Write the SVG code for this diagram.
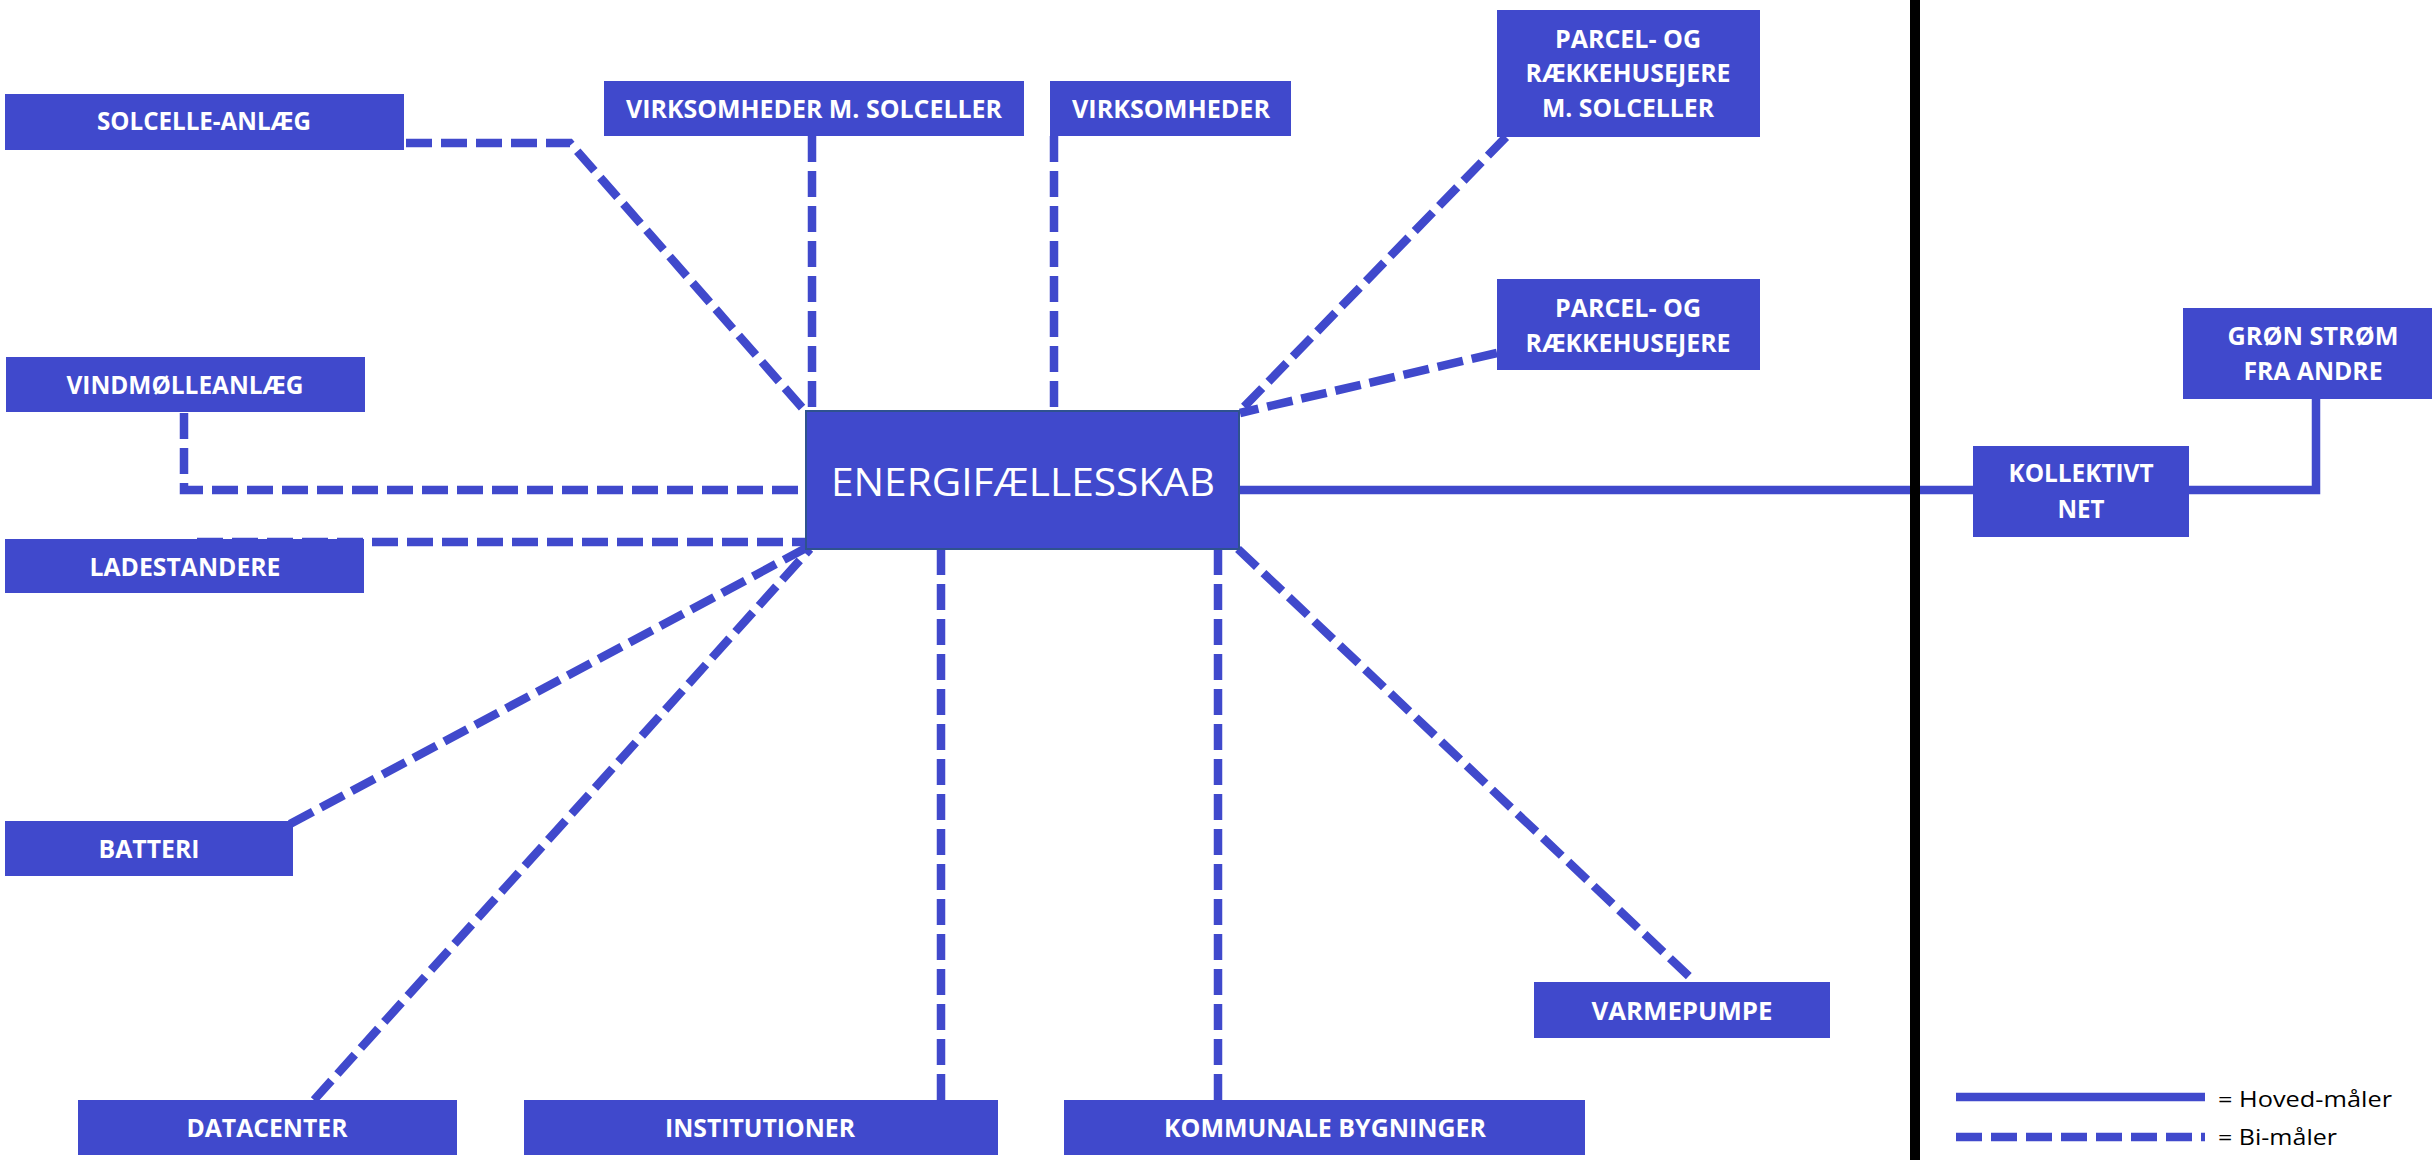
<svg xmlns="http://www.w3.org/2000/svg" width="2432" height="1160" viewBox="0 0 2432 1160">
<style>
.box{fill:#4049CC}
.center{fill:#4049CC;stroke:#2F528F;stroke-width:2}
.lbl{font-family:"Open Sans","Liberation Sans",sans-serif;font-weight:bold;font-size:25px;fill:#FFFFFF;text-anchor:middle}
.big{font-family:"Open Sans","Liberation Sans",sans-serif;font-size:39px;fill:#FFFFFF;text-anchor:middle}
.leg{font-family:"Open Sans","Liberation Sans",sans-serif;font-size:21px;fill:#000000}
.dash{fill:none;stroke:#4049CC;stroke-width:8.5;stroke-dasharray:26 9}
.solid{fill:none;stroke:#4049CC;stroke-width:8.5}
</style>
<rect x="0" y="0" width="2432" height="1160" fill="#FFFFFF"/>
<g id="connectors">
<polyline class="dash" points="406,143 570,143 805,411"/>
<polyline class="dash" points="184,413 184,490 805,490"/>
<line class="dash" x1="197" y1="542" x2="805" y2="542"/>
<line class="dash" x1="290" y1="824" x2="806" y2="548"/>
<line class="dash" x1="314" y1="1100" x2="810" y2="549"/>
<line class="dash" x1="812" y1="136" x2="812" y2="411"/>
<line class="dash" x1="1054" y1="136" x2="1054" y2="411"/>
<line class="dash" x1="1506" y1="137" x2="1240" y2="411"/>
<line class="dash" x1="1497" y1="353" x2="1240" y2="413"/>
<line class="dash" x1="941" y1="549" x2="941" y2="1100"/>
<line class="dash" x1="1218" y1="549" x2="1218" y2="1100"/>
<line class="dash" x1="1238" y1="549" x2="1695" y2="982"/>
<line class="solid" x1="1239" y1="490" x2="1973" y2="490"/>
<polyline class="solid" points="2189,490 2316,490 2316,399"/>
</g>
<rect id="divider" x="1910" y="0" width="10" height="1160" fill="#000000"/>
<g id="solcelle-anlaeg"><rect class="box" x="5" y="94" width="399" height="56"/><text class="lbl" x="204" y="130" textLength="214" lengthAdjust="spacingAndGlyphs">SOLCELLE-ANLÆG</text></g>
<g id="vindmoelleanlaeg"><rect class="box" x="6" y="357" width="359" height="55"/><text class="lbl" x="185" y="394" textLength="237" lengthAdjust="spacingAndGlyphs">VINDMØLLEANLÆG</text></g>
<g id="ladestandere"><rect class="box" x="5" y="539" width="359" height="54"/><text class="lbl" x="185" y="576" textLength="191" lengthAdjust="spacingAndGlyphs">LADESTANDERE</text></g>
<g id="batteri"><rect class="box" x="5" y="821" width="288" height="55"/><text class="lbl" x="149" y="858" textLength="101" lengthAdjust="spacingAndGlyphs">BATTERI</text></g>
<g id="datacenter"><rect class="box" x="78" y="1100" width="379" height="55"/><text class="lbl" x="267" y="1137" textLength="161" lengthAdjust="spacingAndGlyphs">DATACENTER</text></g>
<g id="institutioner"><rect class="box" x="524" y="1100" width="474" height="55"/><text class="lbl" x="760" y="1137" textLength="190" lengthAdjust="spacingAndGlyphs">INSTITUTIONER</text></g>
<g id="kommunale-bygninger"><rect class="box" x="1064" y="1100" width="521" height="55"/><text class="lbl" x="1325" y="1137" textLength="322" lengthAdjust="spacingAndGlyphs">KOMMUNALE BYGNINGER</text></g>
<g id="varmepumpe"><rect class="box" x="1534" y="982" width="296" height="56"/><text class="lbl" x="1682" y="1020" textLength="181" lengthAdjust="spacingAndGlyphs">VARMEPUMPE</text></g>
<g id="virksomheder-m-solceller"><rect class="box" x="604" y="81" width="420" height="55"/><text class="lbl" x="814" y="118" textLength="376" lengthAdjust="spacingAndGlyphs">VIRKSOMHEDER M. SOLCELLER</text></g>
<g id="virksomheder"><rect class="box" x="1050" y="81" width="241" height="55"/><text class="lbl" x="1171" y="118" textLength="198" lengthAdjust="spacingAndGlyphs">VIRKSOMHEDER</text></g>
<g id="parcel-m-solceller"><rect class="box" x="1497" y="10" width="263" height="127"/>
<text class="lbl" x="1628" y="47.5" textLength="146" lengthAdjust="spacingAndGlyphs">PARCEL- OG</text>
<text class="lbl" x="1628" y="82" textLength="205" lengthAdjust="spacingAndGlyphs">RÆKKEHUSEJERE</text>
<text class="lbl" x="1628" y="117" textLength="172" lengthAdjust="spacingAndGlyphs">M. SOLCELLER</text></g>
<g id="parcel"><rect class="box" x="1497" y="279" width="263" height="91"/>
<text class="lbl" x="1628" y="317" textLength="146" lengthAdjust="spacingAndGlyphs">PARCEL- OG</text>
<text class="lbl" x="1628" y="352" textLength="205" lengthAdjust="spacingAndGlyphs">RÆKKEHUSEJERE</text></g>
<g id="energifaellesskab"><rect class="center" x="806" y="411" width="433" height="138"/><text class="big" x="1023" y="496" textLength="384" lengthAdjust="spacingAndGlyphs">ENERGIFÆLLESSKAB</text></g>
<g id="kollektivt-net"><rect class="box" x="1973" y="446" width="216" height="91"/>
<text class="lbl" x="2081" y="482" textLength="145" lengthAdjust="spacingAndGlyphs">KOLLEKTIVT</text>
<text class="lbl" x="2081" y="518" textLength="47" lengthAdjust="spacingAndGlyphs">NET</text></g>
<g id="groen-stroem"><rect class="box" x="2183" y="308" width="260" height="91"/>
<text class="lbl" x="2313" y="345" textLength="171" lengthAdjust="spacingAndGlyphs">GRØN STRØM</text>
<text class="lbl" x="2313" y="380" textLength="139" lengthAdjust="spacingAndGlyphs">FRA ANDRE</text></g>
<g id="legend">
<line class="solid" x1="1956" y1="1097" x2="2205" y2="1097"/>
<text class="leg" x="2218" y="1107" textLength="174" lengthAdjust="spacingAndGlyphs">= Hoved-måler</text>
<line class="dash" x1="1956" y1="1137" x2="2205" y2="1137"/>
<text class="leg" x="2218" y="1145" textLength="119" lengthAdjust="spacingAndGlyphs">= Bi-måler</text>
</g>
</svg>
